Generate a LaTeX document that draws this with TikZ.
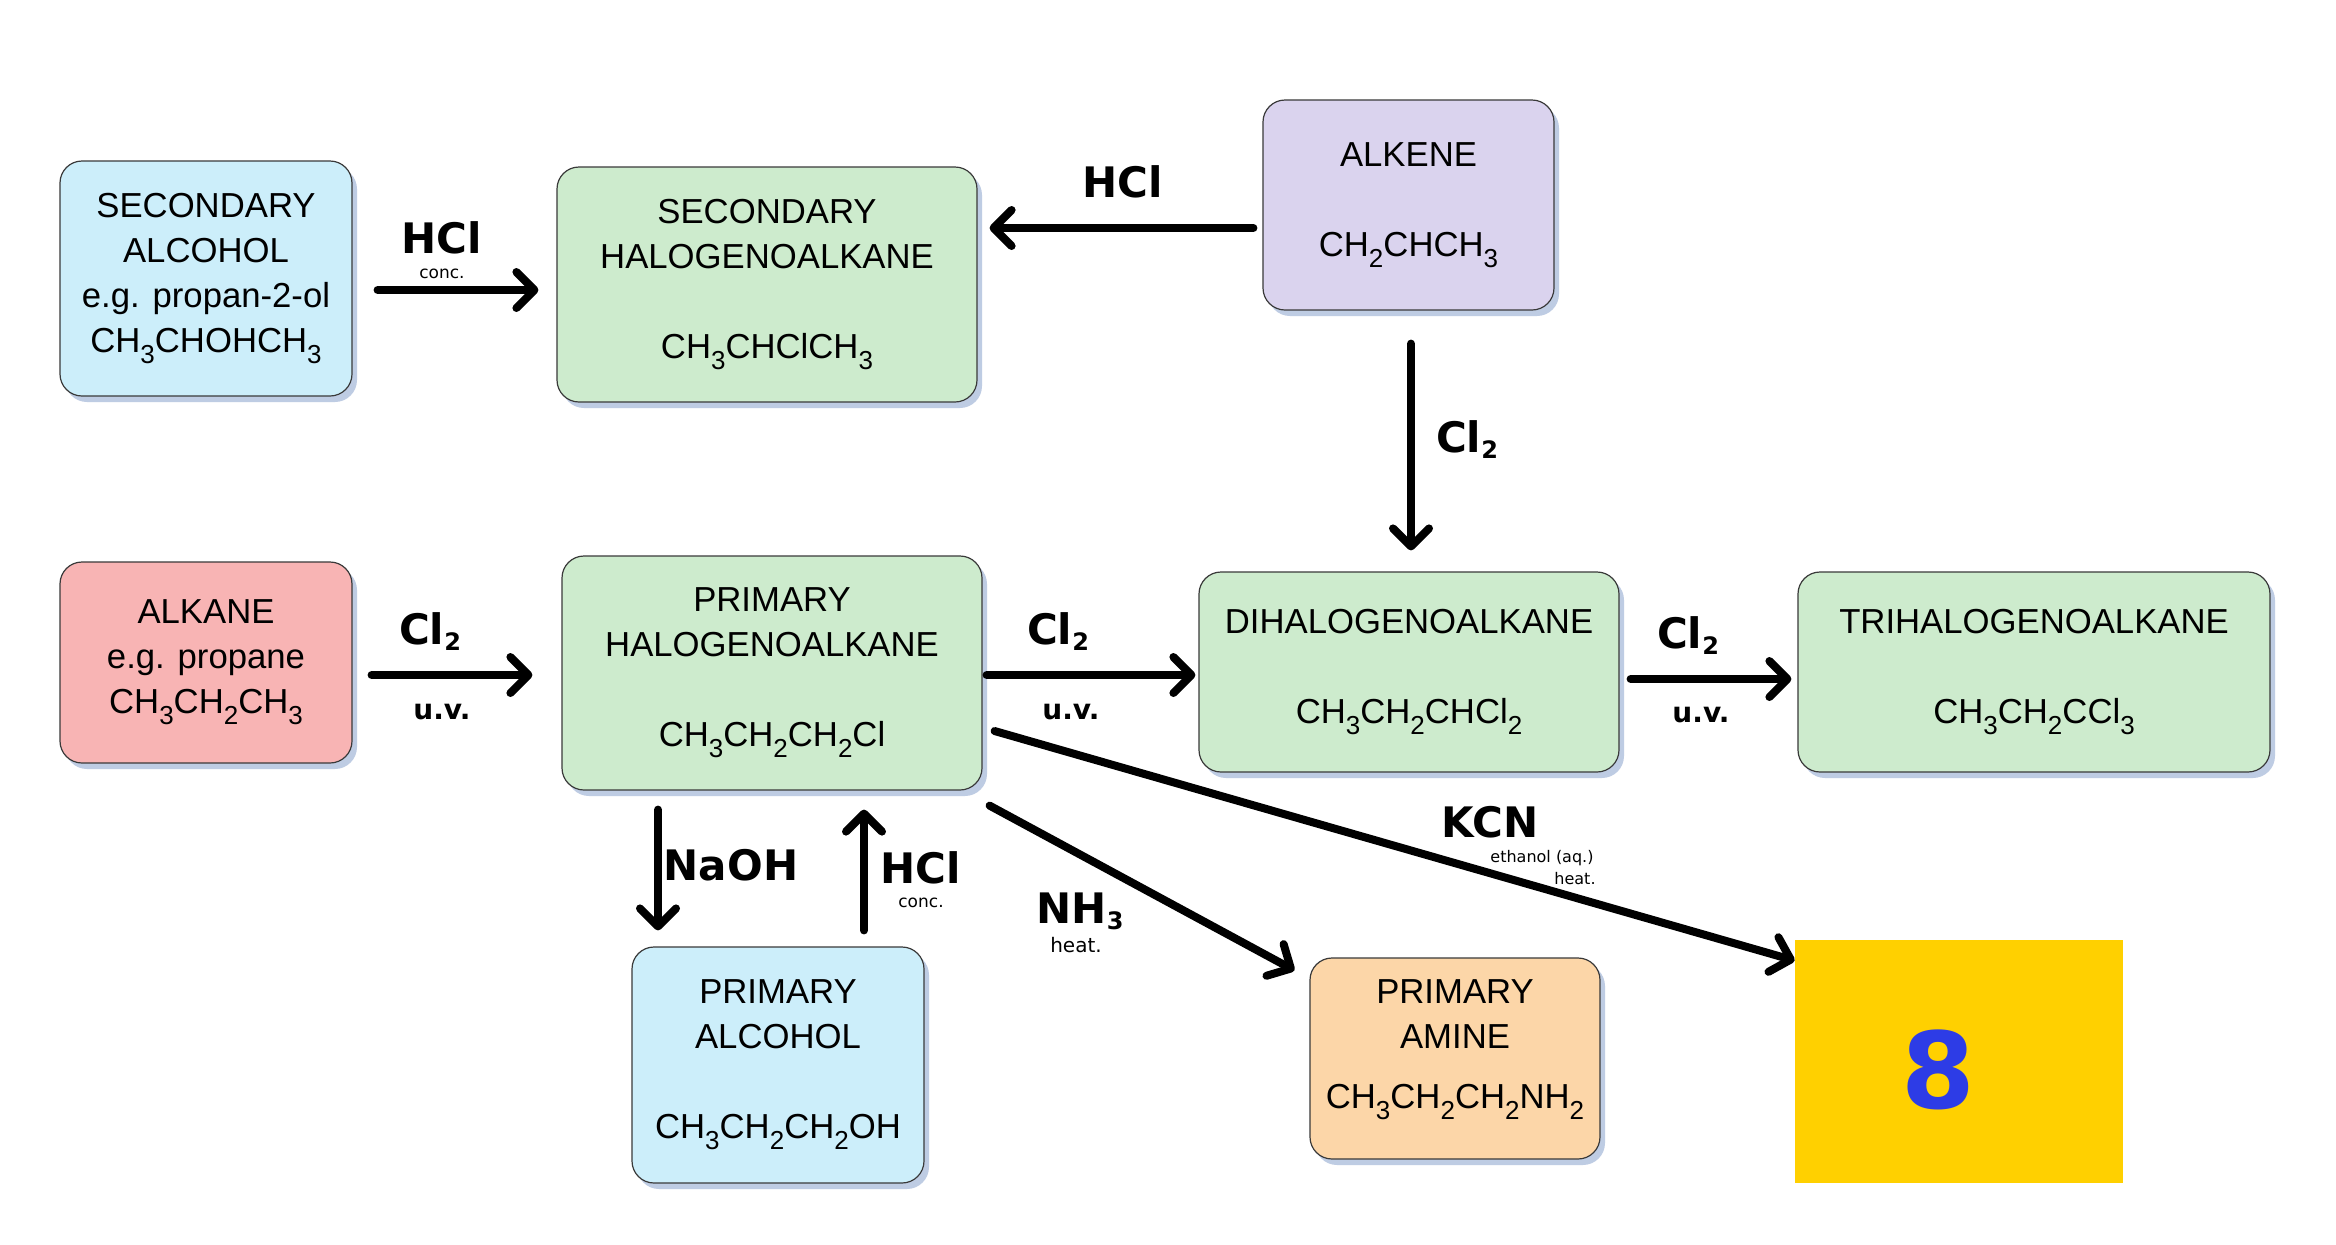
\documentclass[tikz,border=0pt]{standalone}
\usepackage{fontspec}
\setmainfont{Liberation Sans}
\newfontfamily\lblfont{DejaVu Sans}
\usetikzlibrary{arrows.meta,shadows}
\definecolor{cblue}{HTML}{CCEEFA}
\definecolor{cgreen}{HTML}{CDEBCD}
\definecolor{cpurple}{HTML}{DAD3EE}
\definecolor{cpink}{HTML}{F8B4B4}
\definecolor{corange}{HTML}{FCD6A8}
\definecolor{cyellow}{HTML}{FFD000}
\definecolor{ceight}{HTML}{2D3CE6}
\definecolor{boxline}{HTML}{3A3A3A}
\definecolor{shadowc}{HTML}{A9BBDA}
\newcommand\bsub[1]{\raisebox{-0.6ex}{\fontsize{13}{13}\selectfont #1}}
\newcommand\lsub[1]{\raisebox{-0.3ex}{\fontsize{12}{12}\selectfont\bfseries #1}}
\begin{document}
\begin{tikzpicture}[x=0.5pt,y=-0.5pt,
  box/.style={draw=boxline, line width=0.6pt, rounded corners=11pt, inner sep=0pt, align=center,
    font=\fontsize{17.35}{22.5}\selectfont,
    drop shadow={shadow xshift=2.5pt, shadow yshift=-3pt, fill=shadowc, opacity=0.75}},
  rx/.style={-{Straight Barb[length=9pt,width=18pt,round]}, line width=4pt, line cap=round},
  lbl/.style={font=\lblfont\bfseries\fontsize{21}{21}\selectfont, anchor=base, inner sep=0pt},
  uv/.style={font=\lblfont\bfseries\fontsize{14}{14}\selectfont, anchor=base, inner sep=0pt},
  sm/.style={font=\lblfont\fontsize{8.5}{8.5}\selectfont, anchor=base, inner sep=0pt}]
\useasboundingbox[fill=white] (0,0) rectangle (2336,1244);

% boxes
\node[box, fill=cblue, minimum width=146pt, minimum height=117.5pt] (secalc) at (206,278.5)
  {SECONDARY\\ALCOHOL\\e.g. propan-2-ol\\CH\bsub{3}CHOHCH\bsub{3}};
\node[box, fill=cgreen, minimum width=210pt, minimum height=117.5pt] (sechalo) at (767,284.5)
  {SECONDARY\\HALOGENOALKANE\\[22.5pt]CH\bsub{3}CHClCH\bsub{3}};
\node[box, fill=cpurple, minimum width=145.5pt, minimum height=105pt] (alkene) at (1408.5,205)
  {ALKENE\\[22.5pt]CH\bsub{2}CHCH\bsub{3}};
\node[box, fill=cpink, minimum width=146pt, minimum height=100.5pt] (alkane) at (206,662.5)
  {ALKANE\\e.g. propane\\CH\bsub{3}CH\bsub{2}CH\bsub{3}};
\node[box, fill=cgreen, minimum width=210pt, minimum height=117pt] (primhalo) at (772,673)
  {PRIMARY\\HALOGENOALKANE\\[22.5pt]CH\bsub{3}CH\bsub{2}CH\bsub{2}Cl};
\node[box, fill=cgreen, minimum width=210pt, minimum height=100pt] (dihalo) at (1409,672)
  {DIHALOGENOALKANE\\[22.5pt]CH\bsub{3}CH\bsub{2}CHCl\bsub{2}};
\node[box, fill=cgreen, minimum width=236pt, minimum height=100pt] (trihalo) at (2034,672)
  {TRIHALOGENOALKANE\\[22.5pt]CH\bsub{3}CH\bsub{2}CCl\bsub{3}};
\node[box, fill=cblue, minimum width=146pt, minimum height=118pt] (primalc) at (778,1065)
  {PRIMARY\\ALCOHOL\\[22.5pt]CH\bsub{3}CH\bsub{2}CH\bsub{2}OH};
\node[box, fill=corange, minimum width=145pt, minimum height=100.5pt] (amine) at (1455,1058.5)
  {PRIMARY\\AMINE\\[7.5pt]CH\bsub{3}CH\bsub{2}CH\bsub{2}NH\bsub{2}\\[-8pt]\mbox{}};
\node[fill=cyellow, minimum width=164pt, minimum height=121.5pt, inner sep=0pt] (nitrile) at (1959,1061.5) {};
\node[font=\lblfont\bfseries\fontsize{53}{53}\selectfont, text=ceight, inner sep=0pt] (eight) at (1938,1070) {8};

% arrows
\draw[rx] ([shift={(25,11.5)}]secalc.east) -- ([shift={(-18,5.5)}]sechalo.west);
\draw[rx] ([shift={(-9,23)}]alkene.west) -- ([shift={(12,-56.5)}]sechalo.east);
\draw[rx] ([shift={(2.5,33)}]alkene.south) -- ([shift={(2,-21)}]dihalo.north);
\draw[rx] ([shift={(19,12.5)}]alkane.east) -- ([shift={(-29,2)}]primhalo.west);
\draw[rx] ([shift={(4,2)}]primhalo.east) -- ([shift={(-3,3)}]dihalo.west);
\draw[rx] ([shift={(11,7)}]dihalo.east) -- ([shift={(-6,7)}]trihalo.west);
\draw[rx] ([shift={(-114,19)}]primhalo.south) -- ([shift={(-120,-16)}]primalc.north);
\draw[rx] ([shift={(86,-16)}]primalc.north) -- ([shift={(92,19)}]primhalo.south);
\draw[rx] ([shift={(7,15)}]primhalo.south east) -- ([shift={(-15,13)}]amine.north west);
\draw[rx] ([shift={(12,58)}]primhalo.east) -- ([shift={(0,21)}]nitrile.north west);

% labels
\node[lbl] (l1) at (442,253) {HCl};
\node[sm] (l1c) at (442,278) {conc.};
\node[lbl] (l2) at (1123,197) {HCl};
\node[lbl] (l3) at (1467,452) {Cl\lsub{2}};
\node[lbl] (l4) at (430,644) {Cl\lsub{2}};
\node[uv] (l4u) at (442,719) {u.v.};
\node[lbl] (l5) at (1058,644) {Cl\lsub{2}};
\node[uv] (l5u) at (1071,719) {u.v.};
\node[lbl] (l6) at (1688,648) {Cl\lsub{2}};
\node[uv] (l6u) at (1701,722) {u.v.};
\node[lbl] (l7) at (731,880) {NaOH};
\node[lbl] (l8) at (921,883) {HCl};
\node[sm] (l8c) at (921,907) {conc.};
\node[lbl] (l9) at (1080,923) {NH\lsub{3}};
\node[sm, font=\lblfont\fontsize{10}{10}\selectfont] (l9h) at (1076,952) {heat.};
\node[lbl] (l10) at (1490,837) {KCN};
\node[sm, font=\lblfont\fontsize{8}{8}\selectfont] (l10e) at (1542,862) {ethanol (aq.)};
\node[sm, font=\lblfont\fontsize{8}{8}\selectfont] (l10h) at (1575,884) {heat.};
\end{tikzpicture}
\end{document}
